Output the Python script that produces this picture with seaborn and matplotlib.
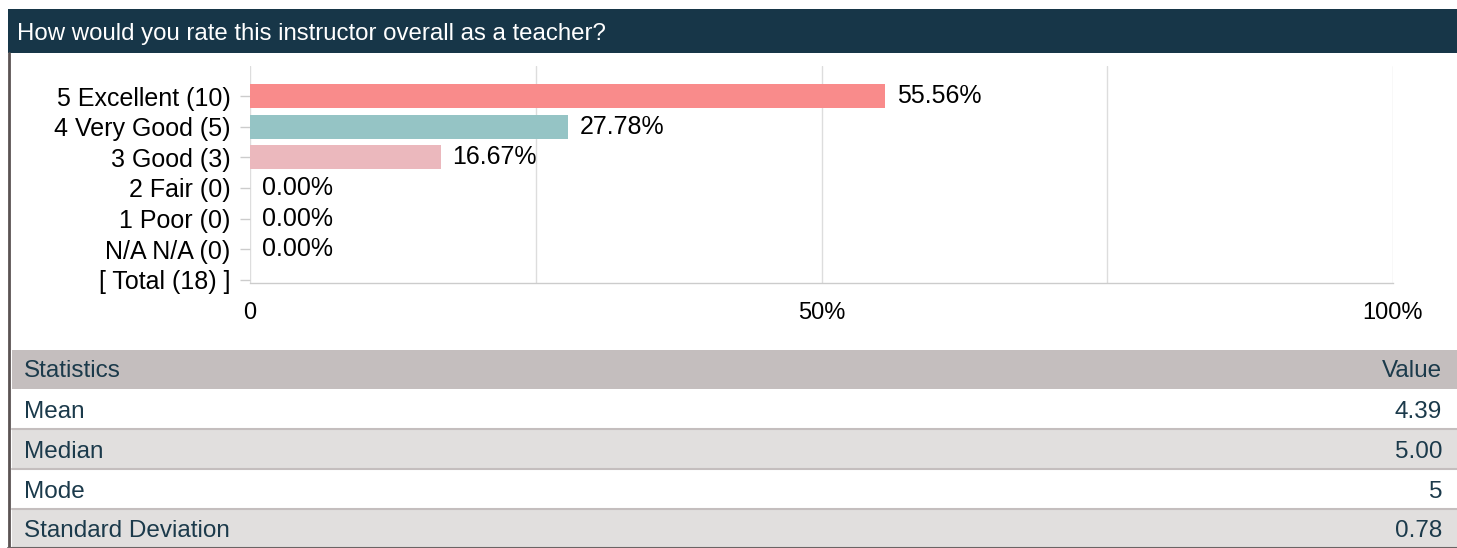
import matplotlib
matplotlib.use("Agg")
import matplotlib.pyplot as plt
from matplotlib.patches import Rectangle
from matplotlib.lines import Line2D
import pandas as pd
import seaborn as sns

# data
title = "How would you rate this instructor overall as a teacher?"
categories = ["5 Excellent (10)", "4 Very Good (5)", "3 Good (3)", "2 Fair (0)",
              "1 Poor (0)", "N/A N/A (0)", "[ Total (18) ]"]
percents = [55.56, 27.78, 16.67, 0.0, 0.0, 0.0, 0.0]
show_label = [True, True, True, True, True, True, False]
bar_colors = ["#F98B8B", "#95C4C5", "#EBB8BD", "#F98B8B", "#F98B8B", "#F98B8B", "#FFFFFF"]
x_ticks = [0, 25, 50, 75, 100]
x_ticklabels = ["0", "", "50%", "", "100%"]

stat_names = ["Mean", "Median", "Mode", "Standard Deviation"]
stat_values = ["4.39", "5.00", "5", "0.78"]

W, H = 1457, 548
sns.set_theme(style="white")
plt.rcParams["font.family"] = ["Liberation Sans", "DejaVu Sans"]

fig = plt.figure(figsize=(W / 100, H / 100), dpi=100, facecolor="white")


def fx(x):
    return x / W


def fy(y):
    return 1 - y / H


TXT = "#1B3A4B"
FS = 17.5

# header band
fig.patches.append(Rectangle((fx(8), fy(53)), fx(W - 8), 44 / H, transform=fig.transFigure,
                             facecolor="#173648", edgecolor="none", zorder=0))
fig.text(fx(17), fy(34), title, color="white", fontsize=17.3, va="center", ha="left")

# left border
fig.lines.append(Line2D([fx(8.5), fx(8.5)], [fy(53), fy(548)], transform=fig.transFigure,
                        color="#5B5353", lw=2))

# chart
ax = fig.add_axes([fx(250), fy(283), fx(1393 - 250), (283 - 66) / H])
df = pd.DataFrame({"category": categories, "percent": percents})
sns.barplot(data=df, x="percent", y="category", hue="category", order=categories,
            palette=dict(zip(categories, bar_colors)), legend=False, width=0.78,
            saturation=1, linewidth=0, orient="h", ax=ax)
for i, (v, s) in enumerate(zip(percents, show_label)):
    if s:
        ax.annotate(f"{v:.2f}%", xy=(v, i), xytext=(8.6, 0), textcoords="offset points",
                    va="center", ha="left", fontsize=18, color="black")

ax.set_xlim(0, 100)
ax.set_ylim(6.1, -0.98)
ax.set_xticks(x_ticks)
ax.set_xticklabels(x_ticklabels)
ax.set_xlabel("")
ax.set_ylabel("")
ax.grid(True, axis="x", color="#DDDDDD", lw=1)
ax.set_axisbelow(True)
for sp in ["top", "right", "left"]:
    ax.spines[sp].set_visible(False)
ax.spines["bottom"].set_color("#CCCCCC")
ax.spines["bottom"].set_linewidth(1)
ax.tick_params(axis="x", length=0, pad=13.5, labelsize=17, labelcolor="black")
ax.tick_params(axis="y", length=7, width=1, color="#CCCCCC", pad=7, labelsize=18,
               labelcolor="black", left=True)

# statistics table
fig.patches.append(Rectangle((fx(12), fy(389)), fx(W - 12), 39 / H, transform=fig.transFigure,
                             facecolor="#C4BEBE", edgecolor="none"))
fig.text(fx(24), fy(371), "Statistics", color=TXT, fontsize=FS, va="center", ha="left")
fig.text(fx(1442), fy(371), "Value", color=TXT, fontsize=FS, va="center", ha="right")
row_tops = [389, 429, 469, 509]
for k, (name, val) in enumerate(zip(stat_names, stat_values)):
    top = row_tops[k]
    bottom = top + 39 if k < 3 else 547
    fc = "white" if k % 2 == 0 else "#E1DFDE"
    fig.patches.append(Rectangle((fx(12), fy(bottom)), fx(W - 12), (bottom - top) / H,
                                 transform=fig.transFigure, facecolor=fc, edgecolor="none"))
    if k < 3:
        fig.lines.append(Line2D([fx(12), 1], [fy(bottom + 0.5)] * 2, transform=fig.transFigure,
                                color="#C4BEBE", lw=1.5))
    cy = (top + bottom) / 2 + 3
    fig.text(fx(24), fy(cy), name, color=TXT, fontsize=FS, va="center", ha="left")
    fig.text(fx(1442), fy(cy), val, color=TXT, fontsize=FS, va="center", ha="right")
fig.lines.append(Line2D([fx(8), 1], [fy(547.5)] * 2, transform=fig.transFigure,
                        color="#6B6464", lw=1.5))

fig.savefig("out.png", dpi=100, facecolor="white")
